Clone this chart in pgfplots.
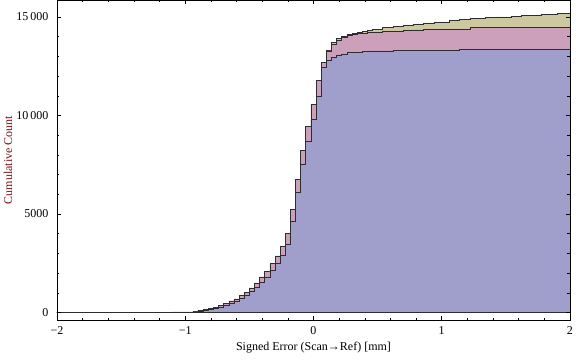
\documentclass[border=0pt]{standalone}
\usepackage{fontspec}
\setmainfont{Liberation Serif}
\usepackage{pgfplots}
\pgfplotsset{compat=1.18}
\definecolor{cblue}{RGB}{160,159,204}
\definecolor{cpink}{RGB}{204,159,186}
\definecolor{colive}{RGB}{204,201,160}
\definecolor{edgec}{RGB}{45,45,45}
\definecolor{ylab}{RGB}{120,20,20}
\newcommand{\tl}[1]{\hbox{\fontsize{12}{14}\selectfont #1}}
\begin{document}
\fontsize{12}{14}\selectfont
\begin{tikzpicture}[font=\fontsize{12}{14}\selectfont]
\useasboundingbox (-57pt,-39pt) rectangle (519pt,320pt);
\begin{axis}[
 at={(0,0)}, anchor=south west,
 scale only axis, width=513pt, height=320pt,
 xmin=-2, xmax=2, ymin=-380, ymax=15862,
 xtick={-2,-1,0,1,2}, xticklabels={\tl{−2},\tl{−1},\tl{0},\tl{1},\tl{2}},
 ytick={0,5000,10000,15000}, yticklabels={\tl{0},\tl{5000},\tl{10\,000},\tl{15\,000}},
 minor x tick num=4, minor y tick num=4,
 tick align=inside, major tick length=4pt, minor tick length=2.5pt,
 tick style={black, line width=0.5pt},
 axis line style={line width=0.6pt},
 yticklabel style={xshift=-4.5pt},
 xticklabel style={yshift=-2pt},
 xlabel={Signed Error (Scan→Ref) [mm]},
 ylabel={Cumulative Count},
 every axis x label/.style={at={(axis description cs:0.5,0)}, anchor=center, yshift=-28pt, font=\fontsize{12}{14}\selectfont},
 every axis y label/.style={at={(axis description cs:-0.0955,0.5)}, rotate=90, anchor=center, color=ylab, font=\fontsize{12}{14}\selectfont},
 axis on top=true,
]
% olive (back)
\addplot[const plot, fill=colive, draw=edgec, line width=0.65pt] coordinates {
(-2,0) (-1.18,25) (-1.10,28) (-1.02,30) (-0.98,34) (-0.94,68) (-0.90,101) (-0.86,152) (-0.82,203) (-0.78,270) (-0.74,372) (-0.70,456) (-0.66,590) (-0.62,692) (-0.58,880) (-0.54,1040) (-0.50,1250) (-0.46,1504) (-0.42,1808) (-0.38,2100) (-0.34,2475) (-0.30,2870) (-0.26,3336) (-0.22,3995) (-0.18,5220) (-0.14,6740) (-0.10,8210) (-0.06,9442) (-0.02,10560) (0.02,11773) (0.06,12705)
(0.10,13300) (0.14,13700) (0.18,13920) (0.22,14040) (0.26,14123) (0.30,14175) (0.34,14225) (0.38,14276) (0.42,14327) (0.46,14378) (0.54,14460) (0.62,14530) (0.70,14596) (0.78,14647) (0.86,14697) (0.94,14748) (1.06,14815) (1.14,14870) (1.22,14925) (1.34,14975) (1.42,15005) (1.54,15035) (1.62,15069) (1.78,15110) (1.90,15180) (2,15180) (2,0)
} -- cycle;
% pink
\addplot[const plot, fill=cpink, draw=edgec, line width=0.65pt] coordinates {
(-2,0) (-1.18,25) (-1.10,28) (-1.02,30) (-0.98,34) (-0.94,68) (-0.90,101) (-0.86,152) (-0.82,203) (-0.78,270) (-0.74,372) (-0.70,456) (-0.66,590) (-0.62,692) (-0.58,880) (-0.54,1040) (-0.50,1250) (-0.46,1504) (-0.42,1808) (-0.38,2100) (-0.34,2475) (-0.30,2870) (-0.26,3336) (-0.22,3995) (-0.18,5220) (-0.14,6740) (-0.10,8210) (-0.06,9442) (-0.02,10560) (0.02,11773) (0.06,12705) (0.10,13280) (0.14,13617) (0.18,13836) (0.22,13972) (0.26,14054) (0.30,14105) (0.34,14155) (0.38,14190) (0.42,14240) (0.54,14290) (0.70,14340) (0.86,14393) (1.22,14460) (2,14460) (2,0)
} -- cycle;
% blue (front)
\addplot[const plot, fill=cblue, draw=edgec, line width=0.65pt] coordinates {
(-2,0) (-1.18,5) (-1.10,8) (-1.02,12) (-0.98,17) (-0.94,34) (-0.90,68) (-0.86,101) (-0.82,152) (-0.78,203) (-0.74,287) (-0.70,355) (-0.66,470) (-0.62,580) (-0.58,730) (-0.54,885) (-0.50,1070) (-0.46,1290) (-0.42,1545) (-0.38,1808) (-0.34,2145) (-0.30,2518) (-0.26,2889) (-0.22,3480) (-0.18,4627) (-0.14,6097) (-0.10,7536) (-0.06,8702) (-0.02,9817) (0.02,10997) (0.06,12420) (0.10,12780) (0.14,12958) (0.18,13075) (0.22,13126) (0.26,13193) (0.38,13243) (0.62,13294) (1.14,13365) (2,13365) (2,0)
} -- cycle;
\end{axis}
\end{tikzpicture}
\end{document}
